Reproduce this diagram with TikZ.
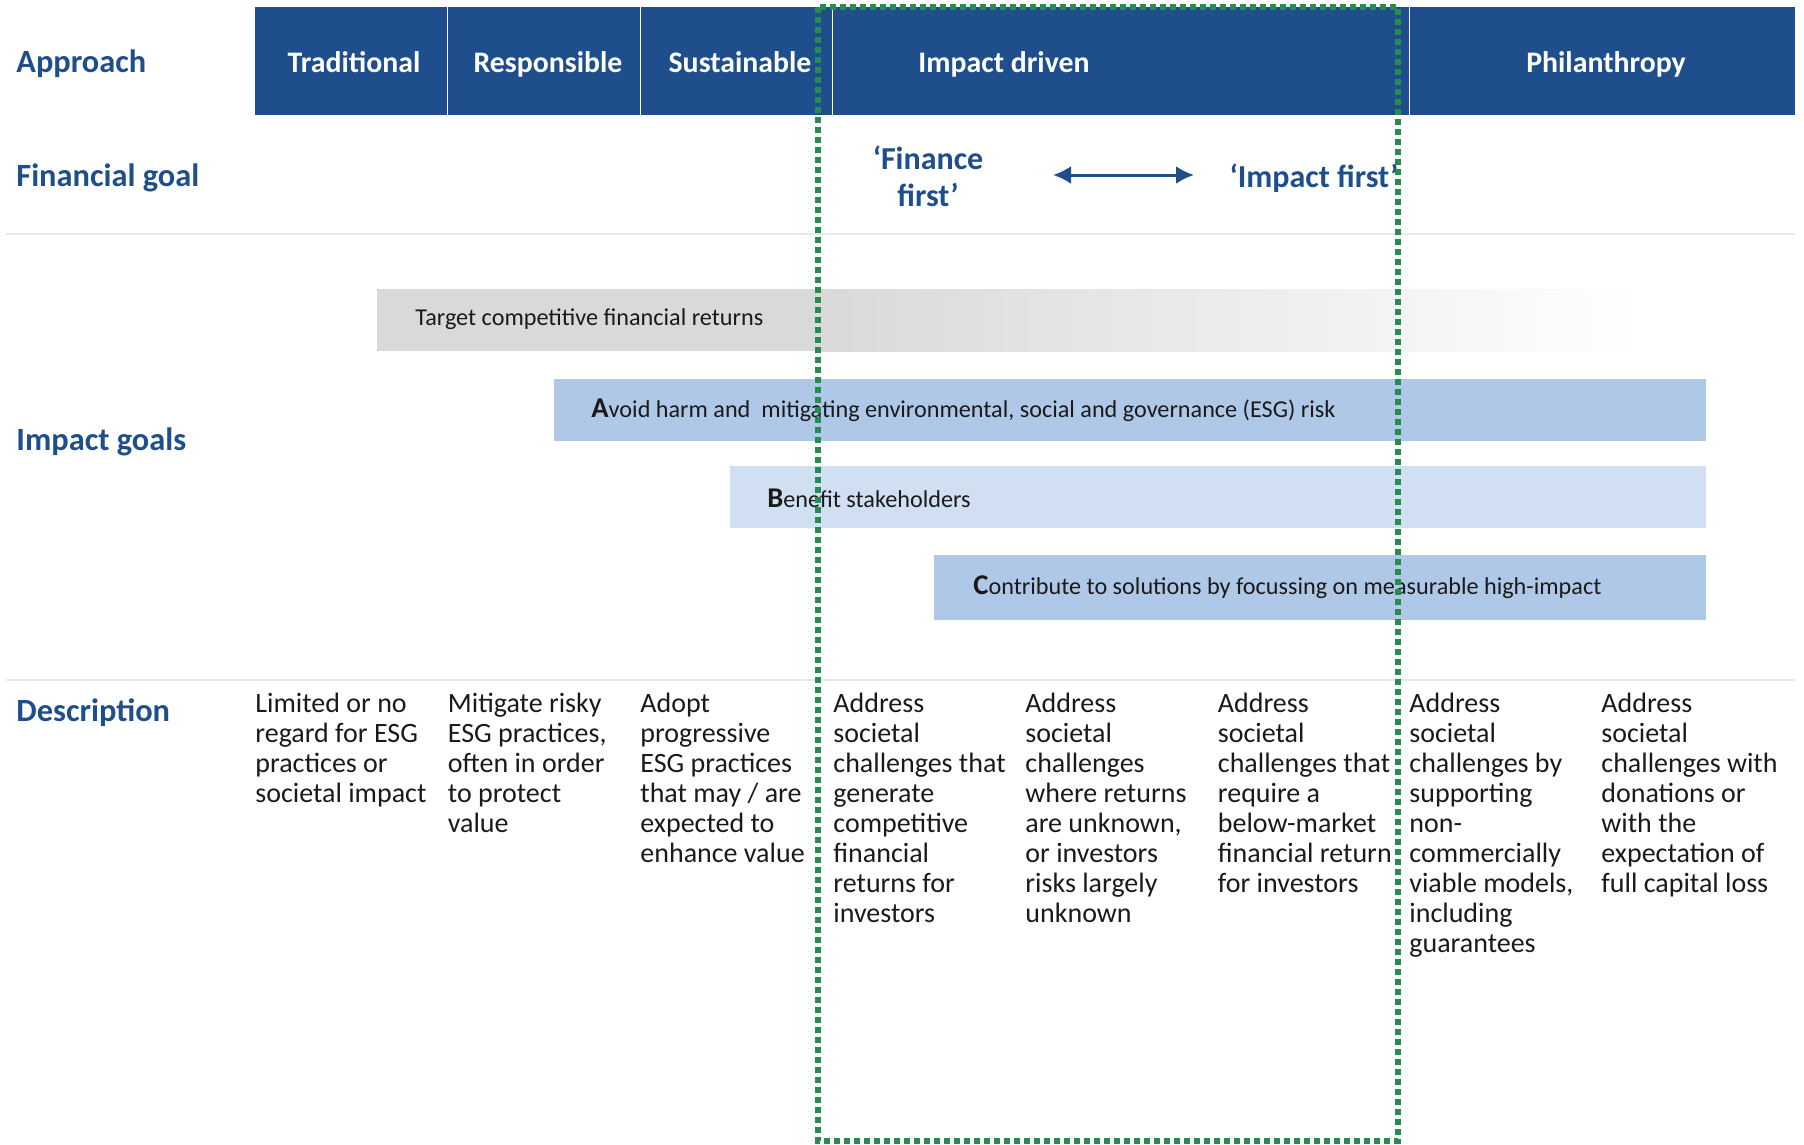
\documentclass[tikz,border=0pt]{standalone}
\usepackage{fontspec}
\setmainfont{Carlito}
\usetikzlibrary{arrows.meta}
\definecolor{navy}{RGB}{31,78,140}
\definecolor{barblue}{RGB}{176,200,232}
\definecolor{barpale}{RGB}{208,223,242}
\definecolor{bargrey}{RGB}{217,217,217}
\definecolor{dotgreen}{RGB}{38,140,80}
\definecolor{rulegrey}{RGB}{232,232,232}
\definecolor{txt}{RGB}{26,26,26}
\begin{document}
\begin{tikzpicture}[x=0.5pt,y=-0.5pt,
  head/.style={text=white,text height=0.75em,text depth=0.25em,font=\fontsize{14.9}{16}\selectfont\bfseries},
  rowlabel/.style={anchor=west,inner sep=0pt,text=navy,font=\fontsize{16.2}{18}\selectfont\bfseries},
  goal/.style={text=navy,align=center,font=\fontsize{16}{18.5}\selectfont\bfseries},
  bartext/.style={anchor=west,inner sep=0pt,text=txt,font=\fontsize{12.1}{13}\selectfont},
  desc/.style={anchor=north west,inner sep=0pt,align=left,text=txt,font=\fontsize{14}{15}\selectfont}]
\useasboundingbox (0,0) rectangle (1804,1145);
\coordinate (C0) at (255,7);
\coordinate (C1) at (447.5,7);
\coordinate (C2) at (640,7);
\coordinate (C3) at (832.5,7);
\coordinate (C4) at (1409,7);
\coordinate (C5) at (1795,115);
\fill[navy] (C0) rectangle (C5);
\draw[white,line width=0.4pt]
      (C1) -- +(0,108)
      (C2) -- +(0,108)
      (C3) -- +(0,108)
      (C4) -- +(0,108);
\draw[rulegrey,line width=1pt]
      (6,233.5) -- (1795,233.5)
      (6,680) -- (1795,680);
\node[rowlabel] (L1) at (16,64) {Approach};
\node[rowlabel] (L2) at (16,178) {Financial goal};
\node[rowlabel] (L3) at (16,441.5) {Impact goals};
\node[rowlabel] (L4) at (16,713) {Description};
\node[head] (H1) at (354,67.5) {Traditional};
\node[head] (H2) at (548,67.5) {Responsible};
\node[head] (H3) at (740,67.5) {Sustainable};
\node[head] (H4) at (1004,67.5) {Impact driven};
\node[head] (H5) at (1606,67.5) {Philanthropy};
\node[goal] (G1) at (928,176) {‘Finance\\first’};
\node[goal] (G2) at (1314,178) {‘Impact first’};
\coordinate (A1) at (1053,175);
\coordinate (A2) at (1194,175);
\draw[navy,line width=1.5pt,{Latex[length=9pt,width=9pt]}-{Latex[length=9pt,width=9pt]}] (A1) -- (A2);
\fill[bargrey] (377,289) rectangle (821,351);
\shade[left color=bargrey,right color=white] (820,289) rectangle (1640,351);
\fill[barblue] (553.5,378.5) rectangle (1706,440.5);
\fill[barpale] (729.5,466) rectangle (1706,528);
\fill[barblue] (934,554.5) rectangle (1706,620);
\node[bartext] (B1) at (415,319.5) {Target competitive financial returns};
\node[bartext] (B2) at (591,410.5) {{\fontsize{14.3}{14}\selectfont\bfseries A}void harm and\ \ mitigating environmental, social and governance (ESG) risk};
\node[bartext] (B3) at (767,498.5) {{\fontsize{14.3}{14}\selectfont\bfseries B}enefit stakeholders};
\node[bartext] (B4) at (973,587) {{\fontsize{14.3}{14}\selectfont\bfseries C}ontribute to solutions by focussing on measurable high-impact};
\node[desc] (D1) at (255,693) {Limited or no\\regard for ESG\\practices or\\societal impact};
\node[desc] (D2) at (447.5,693) {Mitigate risky\\ESG practices,\\often in order\\to protect\\value};
\node[desc] (D3) at (640,693) {Adopt\\progressive\\ESG practices\\that may / are\\expected to\\enhance value};
\node[desc] (D4) at (833,693) {Address\\societal\\challenges that\\generate\\competitive\\financial\\returns for\\investors};
\node[desc] (D5) at (1025,693) {Address\\societal\\challenges\\where returns\\are unknown,\\or investors\\risks largely\\unknown};
\node[desc] (D6) at (1217.5,693) {Address\\societal\\challenges that\\require a\\below-market\\financial return\\for investors};
\node[desc] (D7) at (1409,693) {Address\\societal\\challenges by\\supporting\\non-\\commercially\\viable models,\\including\\guarantees};
\node[desc] (D8) at (1601,693) {Address\\societal\\challenges with\\donations or\\with the\\expectation of\\full capital loss};
\draw[dotgreen,line width=2.6pt,dash pattern=on 3pt off 2pt] (818,7) rectangle (1398,1141);
\end{tikzpicture}
\end{document}
